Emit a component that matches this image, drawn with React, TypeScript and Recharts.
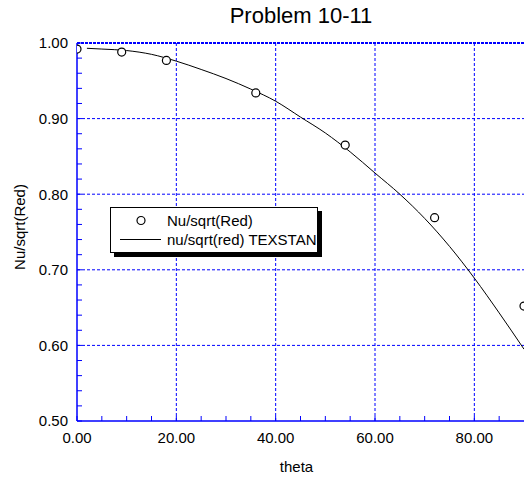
import React from "react";
import {
  ComposedChart,
  XAxis,
  YAxis,
  Line,
  Scatter,
  ReferenceLine,
  Legend,
  Label,
} from "recharts";

// measured points
const measuredTheta = [0, 9, 18, 36, 54, 72, 90];
const measuredNu = [0.992, 0.988, 0.977, 0.934, 0.865, 0.769, 0.652];

// TEXSTAN prediction
const texstanTheta = [2, 5, 10, 15, 20, 25, 30, 35, 40, 45, 50, 55, 60, 65, 70, 75, 80, 85, 90];
const texstanNu = [
  0.993, 0.992, 0.990, 0.985, 0.976, 0.965, 0.953, 0.939, 0.923, 0.902, 0.881,
  0.856, 0.828, 0.8, 0.768, 0.731, 0.689, 0.643, 0.595,
];

const xTicks = [0, 5, 10, 15, 20, 25, 30, 35, 40, 45, 50, 55, 60, 65, 70, 75, 80, 85];
const xGrid = [20, 40, 60, 80];
const yTicks = [
  0.5, 0.52, 0.54, 0.56, 0.58, 0.6, 0.62, 0.64, 0.66, 0.68, 0.7, 0.72, 0.74,
  0.76, 0.78, 0.8, 0.82, 0.84, 0.86, 0.88, 0.9, 0.92, 0.94, 0.96, 0.98, 1.0,
];
const yGrid = [0.6, 0.7, 0.8, 0.9];

const measured = measuredTheta.map((t, i) => ({ theta: t, value: measuredNu[i] }));
const texstan = texstanTheta.map((t, i) => ({ theta: t, value: texstanNu[i] }));

const FONT = "'Liberation Sans', Arial, sans-serif";
const BLUE = "#0000ff";

const isMajorX = (v: number) => v % 20 === 0;
const isMajorY = (v: number) => Math.round(v * 100) % 10 === 0;

const XTick = (props: any) => {
  const { x, y, payload } = props;
  const v = payload.value as number;
  return (
    <g>
      <line x1={x} x2={x} y1={y} y2={y - 5} stroke={BLUE} />
      {isMajorX(v) && (
        <text x={x} y={y + 22} textAnchor="middle" fontSize={15} fontFamily={FONT} fill="#000">
          {v.toFixed(2)}
        </text>
      )}
    </g>
  );
};

const YTick = (props: any) => {
  const { x, y, payload } = props;
  const v = payload.value as number;
  return (
    <g>
      <line x1={x} x2={x + 5} y1={y} y2={y} stroke={BLUE} />
      {isMajorY(v) && (
        <text x={x - 9} y={y} dy="0.36em" textAnchor="end" fontSize={15} fontFamily={FONT} fill="#000">
          {v.toFixed(2)}
        </text>
      )}
    </g>
  );
};

// rotated y axis title, placed inside the axis band
const YTitle = (props: any) => {
  const { viewBox } = props;
  const cx = viewBox.x + 20;
  const cy = viewBox.y + viewBox.height / 2 - 5;
  return (
    <text
      x={cx}
      y={cy}
      dy="0.36em"
      transform={`rotate(-90, ${cx}, ${cy})`}
      textAnchor="middle"
      fontSize={15}
      fontFamily={FONT}
      fill="#000"
    >
      Nu/sqrt(Red)
    </text>
  );
};

const Circle = (props: any) => (
  <circle cx={props.cx} cy={props.cy} r={4} fill="#fff" stroke="#000" strokeWidth={1.2} />
);

const LegendBox = (props: any) => {
  const items = [...(props.payload || [])].sort((a: any) =>
    a.type === "circle" ? -1 : 1
  );
  return (
    <div
      style={{
        width: 206,
        border: "1px solid #000",
        background: "#fff",
        boxShadow: "4px 4px 0 #000",
        padding: "3px 0 3px 0",
        fontFamily: FONT,
        fontSize: 15,
        color: "#000",
      }}
    >
      {items.map((it: any) => (
        <div key={it.value} style={{ display: "flex", alignItems: "center", height: 19 }}>
          <svg width={56} height={19}>
            {it.type === "circle" ? (
              <circle cx={30} cy={9.5} r={4} fill="#fff" stroke="#000" strokeWidth={1.2} />
            ) : (
              <line x1={9} x2={50} y1={9.5} y2={9.5} stroke="#000" />
            )}
          </svg>
          <span style={{ whiteSpace: "nowrap" }}>{it.value}</span>
        </div>
      ))}
    </div>
  );
};

export default function App() {
  return (
    <div style={{ position: "absolute", left: 0, top: 0, width: 524, height: 479, background: "#fff" }}>
      <div
        style={{
          position: "absolute",
          top: 5,
          left: 78,
          width: 446,
          textAlign: "center",
          fontFamily: FONT,
          fontSize: 22,
          lineHeight: "22px",
        }}
      >
        Problem 10-11
      </div>
      <ComposedChart width={524} height={479} margin={{ top: 43, right: 0, bottom: 0, left: 0 }}>
        <XAxis
          dataKey="theta"
          type="number"
          domain={[0, 90]}
          ticks={xTicks}
          interval={0}
          height={58}
          tickSize={0}
          tickMargin={0}
          tickLine={false}
          tick={<XTick />}
          axisLine={{ stroke: BLUE, strokeWidth: 1.5 }}
          allowDataOverflow
        >
          <Label value="theta" position="insideBottom" offset={7} dx={-4} fontSize={15} fontFamily={FONT} fill="#000" />
        </XAxis>
        <YAxis
          dataKey="value"
          type="number"
          domain={[0.5, 1]}
          ticks={yTicks}
          interval={0}
          width={77}
          tickSize={0}
          tickMargin={0}
          tickLine={false}
          tick={<YTick />}
          axisLine={{ stroke: BLUE, strokeWidth: 1.5 }}
          allowDataOverflow
        >
          <Label content={<YTitle />} />
        </YAxis>
        {xGrid.map((v) => (
          <ReferenceLine key={"x" + v} x={v} stroke={BLUE} strokeDasharray="3 2" />
        ))}
        {yGrid.map((v) => (
          <ReferenceLine key={"y" + v} y={v} stroke={BLUE} strokeDasharray="3 2" />
        ))}
        <ReferenceLine y={1} stroke={BLUE} strokeWidth={2} strokeDasharray="3 1" />
        <Scatter
          name="Nu/sqrt(Red)"
          data={measured}
          shape={<Circle />}
          legendType="circle"
          isAnimationActive={false}
        />
        <Line
          name="nu/sqrt(red) TEXSTAN"
          data={texstan}
          dataKey="value"
          type="monotone"
          stroke="#000"
          strokeWidth={1}
          dot={false}
          legendType="line"
          isAnimationActive={false}
        />
        <Legend
          layout="horizontal"
          verticalAlign="middle"
          align="center"
          content={<LegendBox />}
          wrapperStyle={{ left: 110, top: 207, width: 212 }}
        />
      </ComposedChart>
    </div>
  );
}
